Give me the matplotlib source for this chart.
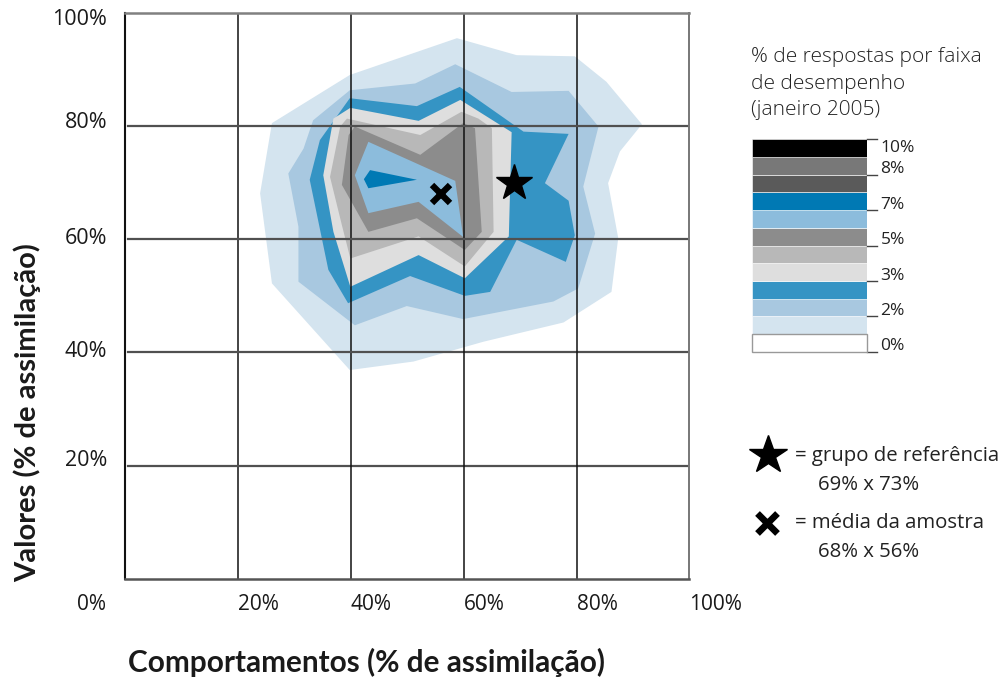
import matplotlib
matplotlib.use("Agg")
import matplotlib.pyplot as plt
import matplotlib.transforms as mtransforms
from matplotlib.patches import Polygon, Rectangle
from matplotlib.lines import Line2D

# Density bands of responses, outermost first: (comportamentos %, valores %)
band_1 = [(58.8, 95.5), (69.4, 92.5), (79.7, 92.3), (85.3, 87.8), (91.6, 80.3),
          (87.7, 75.5), (85.6, 69.9), (87.4, 60.2), (86.2, 50.7), (77.7, 45.3),
          (63.5, 41.9), (51.1, 38.4), (39.8, 36.9), (26.0, 52.2), (23.9, 68.1),
          (26.0, 80.5), (39.8, 89.0)]
band_2 = [(58.5, 90.9), (68.5, 86.0), (78.6, 86.2), (83.9, 79.9), (81.2, 69.3),
          (83.3, 61.0), (80.3, 51.3), (75.9, 49.0), (59.9, 45.9), (49.9, 48.2),
          (40.7, 44.8), (30.7, 52.5), (30.7, 62.2), (28.9, 71.6), (31.6, 76.0),
          (33.3, 81.0), (39.8, 86.3), (51.4, 87.5)]
band_3 = [(39.8, 84.9), (51.7, 83.5), (59.3, 86.9), (70.6, 79.0), (78.6, 78.6),
          (74.4, 69.9), (78.6, 66.8), (79.7, 60.7), (78.1, 56.0), (69.4, 59.9),
          (64.7, 50.7), (60.2, 50.0), (50.5, 53.5), (39.5, 48.7), (36.0, 54.6),
          (32.7, 70.5), (34.5, 77.5)]
band_4 = [(39.9, 83.2), (52.0, 80.9), (59.4, 84.6), (68.5, 78.9), (68.0, 60.5),
          (60.2, 53.1), (52.0, 57.2), (39.9, 51.6), (36.9, 61.3), (35.1, 71.3),
          (36.9, 81.3)]
band_5 = [(39.3, 81.3), (52.3, 78.4), (59.6, 82.5), (62.6, 81.3), (65.0, 79.6),
          (65.3, 61.3), (60.2, 55.2), (52.0, 60.5), (39.9, 56.6), (38.4, 62.5),
          (36.3, 71.0), (38.1, 79.9)]
band_6 = [(40.7, 79.9), (52.3, 74.9), (59.9, 80.5), (62.0, 79.6), (63.2, 61.3),
          (60.2, 58.1), (51.7, 63.7), (43.1, 61.3), (38.4, 69.6), (39.6, 78.4)]
band_7 = [(43.1, 77.2), (58.5, 70.3), (59.9, 60.4), (52.0, 66.6), (43.1, 64.6),
          (40.7, 71.3)]
band_8 = [(43.4, 72.2), (51.7, 70.5), (43.1, 69.0), (42.3, 70.6)]

bands = [band_1, band_2, band_3, band_4, band_5, band_6, band_7, band_8]
band_colors = ["#d4e4ef", "#a8c8e0", "#3594c4", "#dedede",
               "#b8b8b8", "#8c8c8c", "#8cbcdc", "#0079b4"]

# Reference group and sample mean (comportamentos %, valores %)
ref_x, ref_y = 69, 70
mean_x, mean_y = 56, 68

# Axis ticks
axis_ticks = [20, 40, 60, 80, 100]
axis_tick_labels = ["20%", "40%", "60%", "80%", "100%"]

# Legend scale, bottom to top
legend_colors = ["#ffffff", "#d4e4ef", "#a8c8e0", "#3594c4", "#dedede", "#b8b8b8",
                 "#8c8c8c", "#8cbcdc", "#0079b4", "#5a5a5a", "#787878", "#000000"]
legend_tick_pos = [0, 2, 4, 6, 8, 10, 12]
legend_tick_labels = ["0%", "2%", "3%", "5%", "7%", "8%", "10%"]

W, H = 1005, 679
FONT = "Open Sans"
BOLD = "Lato"
TXT = "#1a1a1a"


def fx(px):
    return px / W


def fy(py):
    return 1 - py / H


fig = plt.figure(figsize=(W / 100, H / 100), dpi=100)
fig.patch.set_facecolor("white")

ax = fig.add_axes([fx(125.3), fy(579), fx(689.3) - fx(125.3), fy(12.7) - fy(579)])
ax.set_xlim(0, 100)
ax.set_ylim(0, 100)

for verts, col in zip(bands, band_colors):
    ax.add_patch(Polygon(verts, closed=True, facecolor=col, edgecolor="none", zorder=1))

# grid
for v in axis_ticks[:-1]:
    ax.axvline(v, color="#111111", lw=1.1, zorder=3)
    ax.axhline(v, xmin=0.004, color="#505050", lw=1.6, zorder=3)

ax.spines["left"].set_color("#111111")
ax.spines["left"].set_linewidth(1.5)
ax.spines["bottom"].set_color("#555555")
ax.spines["bottom"].set_linewidth(1.8)
ax.spines["top"].set_color("#808080")
ax.spines["top"].set_linewidth(1.8)
ax.spines["right"].set_color("#777777")
ax.spines["right"].set_linewidth(1.4)
for s in ax.spines.values():
    s.set_zorder(4)
ax.set_xticks([])
ax.set_yticks([])

ax.plot([ref_x], [ref_y], marker="*", ms=27, color="black", zorder=5, linestyle="none")
ax.plot([mean_x], [mean_y], marker="x", ms=13, mew=4.5, color="black", zorder=5,
        linestyle="none")

# tick labels
x_lab_tr = mtransforms.blended_transform_factory(ax.transData, fig.transFigure)
y_shift = {100: -7, 80: 3, 60: 1, 40: 1, 20: 5}
for v, lab in zip(axis_ticks, axis_tick_labels):
    ax.text(v, fy(604), lab, transform=x_lab_tr, ha="left", va="center",
            fontsize=15, family=FONT, color=TXT)
    ax.text(-3.2, v, lab, ha="right", va="center", fontsize=15.5, family=FONT, color=TXT,
            transform=ax.transData + mtransforms.ScaledTranslation(
                0, y_shift[v] / 100, fig.dpi_scale_trans))
fig.text(fx(106), fy(604), "0%", ha="right", va="center", fontsize=15, family=FONT,
         color=TXT)

fig.text(fx(27), fy(413), "Valores (% de assimilação)", rotation=90, ha="center",
         va="center", fontsize=21, fontweight="bold", family=BOLD, color=TXT)
fig.text(fx(366), fy(662), "Comportamentos (% de assimilação)", ha="center",
         va="center", fontsize=21.4, fontweight="bold", family=BOLD, color=TXT)

# legend title
for i, line in enumerate(["% de respostas por faixa", "de desempenho", "(janeiro 2005)"]):
    fig.text(fx(751), fy(57 + 26.5 * i), line, ha="left", va="center", fontsize=15,
             family=FONT, color="#222222", fontweight="light")

# legend scale
lax = fig.add_axes([fx(752), fy(351.7), fx(866.7) - fx(752), fy(139.3) - fy(351.7)])
lax.set_xlim(0, 1)
lax.set_ylim(0, len(legend_colors))
lax.axis("off")
for i, col in enumerate(legend_colors):
    if col == "#ffffff":
        continue
    lax.add_patch(Rectangle((0, i), 1, 1, facecolor=col, edgecolor="white", lw=0.4))
lax.add_patch(Rectangle((0, 0), 1, 1, facecolor="#ffffff", edgecolor="#999999",
                        lw=1.0, zorder=3, clip_on=False))
for pos, lab in zip(legend_tick_pos, legend_tick_labels):
    lax.plot([1.0, 1.09], [pos, pos], color="#444444", lw=1.0, clip_on=False)
    off = -0.5 if pos == legend_tick_pos[-1] else 0.3
    lax.text(1.12, pos + off, lab, ha="left", va="center", fontsize=12.5, family=FONT,
             color="#222222")

# marker legend
fig.add_artist(Line2D([fx(768)], [fy(455)], marker="*", ms=29, color="black",
                      transform=fig.transFigure, linestyle="none"))
fig.add_artist(Line2D([fx(767)], [fy(523)], marker="x", ms=14, mew=4.8, color="black",
                      transform=fig.transFigure, linestyle="none"))
fig.text(fx(795), fy(456), "= grupo de referência", ha="left", va="center",
         fontsize=14.7, family=FONT, color="#222222")
fig.text(fx(818), fy(485), "69% x 73%", ha="left", va="center", fontsize=14.7,
         family=FONT, color="#222222")
fig.text(fx(795), fy(523), "= média da amostra", ha="left", va="center",
         fontsize=14.7, family=FONT, color="#222222")
fig.text(fx(818), fy(552), "68% x 56%", ha="left", va="center", fontsize=14.7,
         family=FONT, color="#222222")

fig.savefig("out.png", dpi=100)
